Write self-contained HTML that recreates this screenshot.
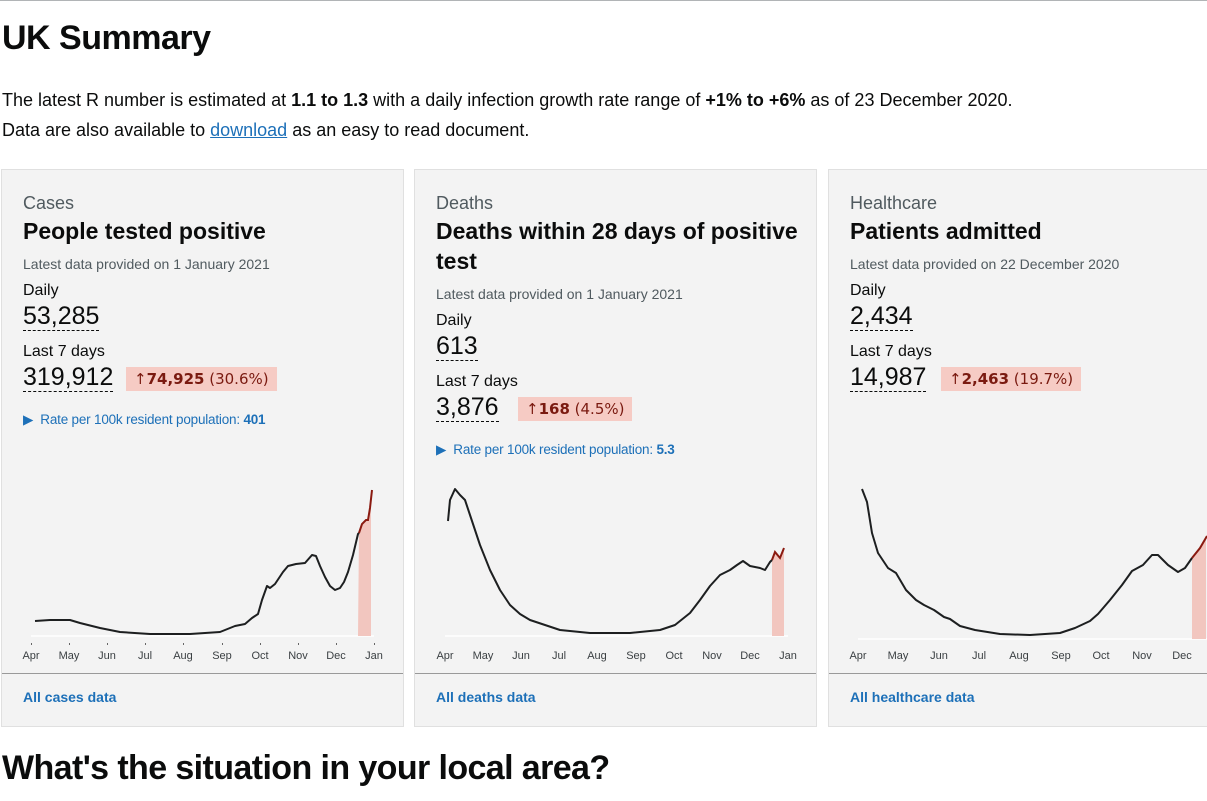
<!DOCTYPE html>
<html><head><meta charset="utf-8"><style>
body{margin:0;width:1207px;height:801px;overflow:hidden;background:#fff;font-family:"Liberation Sans",sans-serif;color:#0b0c0c;position:relative}
.top{position:absolute;left:0;top:0;width:1207px;border-top:1px solid #b1b4b6}
h1{position:absolute;left:2px;top:19px;margin:0;font-size:34px;font-weight:bold;letter-spacing:-0.5px}
.p{position:absolute;left:2px;font-size:18px;white-space:nowrap}
.p a{color:#1d70b8;text-decoration:underline}
.card{position:absolute;top:169px;height:558px;background:#f3f3f3;border:1px solid #e0e0e0;box-sizing:border-box}
.card .cap{position:absolute;left:21px;top:23px;font-size:18px;color:#505a5f}
.card .t{position:absolute;left:21px;top:46px;font-size:23px;font-weight:bold;line-height:30px;width:370px}
.s{position:absolute;left:21px;font-size:14px;color:#505a5f}
.l{position:absolute;left:21px;font-size:16px}
.n{position:absolute;left:21px;font-size:25px;border-bottom:1px dashed #0b0c0c;line-height:28px}
.ch{position:absolute;background:#f6cbc4;color:#7a1a10;padding:1px 8px;line-height:22px;font-family:"DejaVu Sans",sans-serif;font-size:15px}
.rate{position:absolute;left:21px;font-size:13.5px;color:#1d70b8;letter-spacing:-0.2px}
.div{position:absolute;left:0;right:0;top:503px;border-top:1px solid #999}
.lnk{position:absolute;left:21px;top:519px;font-size:14px;font-weight:bold;color:#1d70b8}
h2{position:absolute;left:2px;top:749px;margin:0;font-size:34px;font-weight:bold;letter-spacing:-0.6px}
svg{position:absolute;left:0;top:0}
svg text{font-family:"Liberation Sans",sans-serif;font-size:11px;fill:#3a3f42;text-anchor:middle}
</style></head><body>
<div class="top"></div>
<h1>UK Summary</h1>
<div class="p" style="top:90px">The latest R number is estimated at <b>1.1 to 1.3</b> with a daily infection growth rate range of <b>+1% to +6%</b> as of 23 December 2020.</div>
<div class="p" style="top:120px">Data are also available to <a>download</a> as an easy to read document.</div>

<div class="card" style="left:1px;width:403px">
<div class="cap">Cases</div><div class="t">People tested positive</div>
<div class="s" style="top:86px">Latest data provided on 1 January 2021</div>
<div class="l" style="top:112px">Daily</div><div class="n" style="top:132px">53,285</div>
<div class="l" style="top:173px">Last 7 days</div><div class="n" style="top:193px">319,912</div>
<div class="ch" style="left:124px;top:197px">↑<b>74,925</b> (30.6%)</div>
<div class="rate" style="top:242px">▶&nbsp; Rate per 100k resident population: <b>401</b></div>
<div class="div"></div><div class="lnk">All cases data</div>
</div>
<div class="card" style="left:414px;width:403px">
<div class="cap">Deaths</div><div class="t">Deaths within 28 days of positive test</div>
<div class="s" style="top:116px">Latest data provided on 1 January 2021</div>
<div class="l" style="top:142px">Daily</div><div class="n" style="top:162px">613</div>
<div class="l" style="top:203px">Last 7 days</div><div class="n" style="top:223px">3,876</div>
<div class="ch" style="left:103px;top:227px">↑<b>168</b> (4.5%)</div>
<div class="rate" style="top:272px">▶&nbsp; Rate per 100k resident population: <b>5.3</b></div>
<div class="div"></div><div class="lnk">All deaths data</div>
</div>
<div class="card" style="left:828px;width:390px">
<div class="cap">Healthcare</div><div class="t">Patients admitted</div>
<div class="s" style="top:86px">Latest data provided on 22 December 2020</div>
<div class="l" style="top:112px">Daily</div><div class="n" style="top:132px">2,434</div>
<div class="l" style="top:173px">Last 7 days</div><div class="n" style="top:193px">14,987</div>
<div class="ch" style="left:112px;top:197px">↑<b>2,463</b> (19.7%)</div>
<div class="div"></div><div class="lnk">All healthcare data</div>
</div>

<svg width="1207" height="801">
<g stroke="#fff" stroke-width="1.5"><line x1="31" y1="636" x2="374" y2="636"/><line x1="445" y1="636" x2="788" y2="636"/><line x1="858" y1="639" x2="1207" y2="639"/></g>
<polygon fill="#f2c6bf" points="358,636 359,533 362,524 366,520 368,520 370,508 371,495 371,636"/>
<polygon fill="#f2c6bf" points="772,636 772,560 775,552 780,558 784,548 784,636"/>
<polygon fill="#f2c6bf" points="1192,639 1192,558 1200,548 1206,537 1206,639"/>
<g fill="none" stroke="#1d1f20" stroke-width="2" stroke-linejoin="round">
<polyline points="35,621 50,620 70,620 80,623 100,628 120,632 150,634 190,634 220,632 235,626 245,624 252,618 258,614 262,600 267,586 270,588 275,584 283,572 288,566 296,564 305,563 312,555 316,556 320,566 325,577 330,586 335,590 340,588 344,582 348,572 353,555 358,534 359,533"/>
<polyline points="448,521 450,500 455,489 460,495 465,500 470,515 480,545 490,570 500,590 510,605 520,614 530,620 545,625 560,630 590,633 630,633 660,630 675,625 690,613 700,600 710,586 720,575 730,570 737,565 743,561 750,566 760,568 765,570 770,562 772,560"/>
<polyline points="862,489 867,502 872,533 878,553 888,568 896,573 906,590 916,600 924,605 934,610 944,617 950,619 960,626 975,630 1000,634 1030,635 1060,633 1075,628 1090,621 1098,614 1110,600 1122,585 1132,571 1143,565 1152,555 1158,555 1168,565 1178,572 1185,568 1192,558"/>
</g>
<g fill="none" stroke="#8a1a10" stroke-width="2">
<polyline points="359,533 362,524 366,520 368,520 370,508 372,490"/>
<polyline points="772,560 775,552 780,558 784,548"/>
<polyline points="1192,558 1200,548 1207,536"/>
</g>
<g fill="#666"><rect x="31" y="643" width="1" height="2"/><rect x="69" y="643" width="1" height="2"/><rect x="107" y="643" width="1" height="2"/><rect x="145" y="643" width="1" height="2"/><rect x="183" y="643" width="1" height="2"/><rect x="222" y="643" width="1" height="2"/><rect x="260" y="643" width="1" height="2"/><rect x="298" y="643" width="1" height="2"/><rect x="336" y="643" width="1" height="2"/><rect x="374" y="643" width="1" height="2"/></g>
<g>
<text x="31" y="659">Apr</text><text x="69" y="659">May</text><text x="107" y="659">Jun</text><text x="145" y="659">Jul</text><text x="183" y="659">Aug</text><text x="222" y="659">Sep</text><text x="260" y="659">Oct</text><text x="298" y="659">Nov</text><text x="336" y="659">Dec</text><text x="374" y="659">Jan</text>
<text x="445" y="659">Apr</text><text x="483" y="659">May</text><text x="521" y="659">Jun</text><text x="559" y="659">Jul</text><text x="597" y="659">Aug</text><text x="636" y="659">Sep</text><text x="674" y="659">Oct</text><text x="712" y="659">Nov</text><text x="750" y="659">Dec</text><text x="788" y="659">Jan</text>
<text x="858" y="659">Apr</text><text x="898" y="659">May</text><text x="939" y="659">Jun</text><text x="979" y="659">Jul</text><text x="1019" y="659">Aug</text><text x="1061" y="659">Sep</text><text x="1101" y="659">Oct</text><text x="1142" y="659">Nov</text><text x="1182" y="659">Dec</text>
</g>
</svg>
<h2>What's the situation in your local area?</h2>
</body></html>
